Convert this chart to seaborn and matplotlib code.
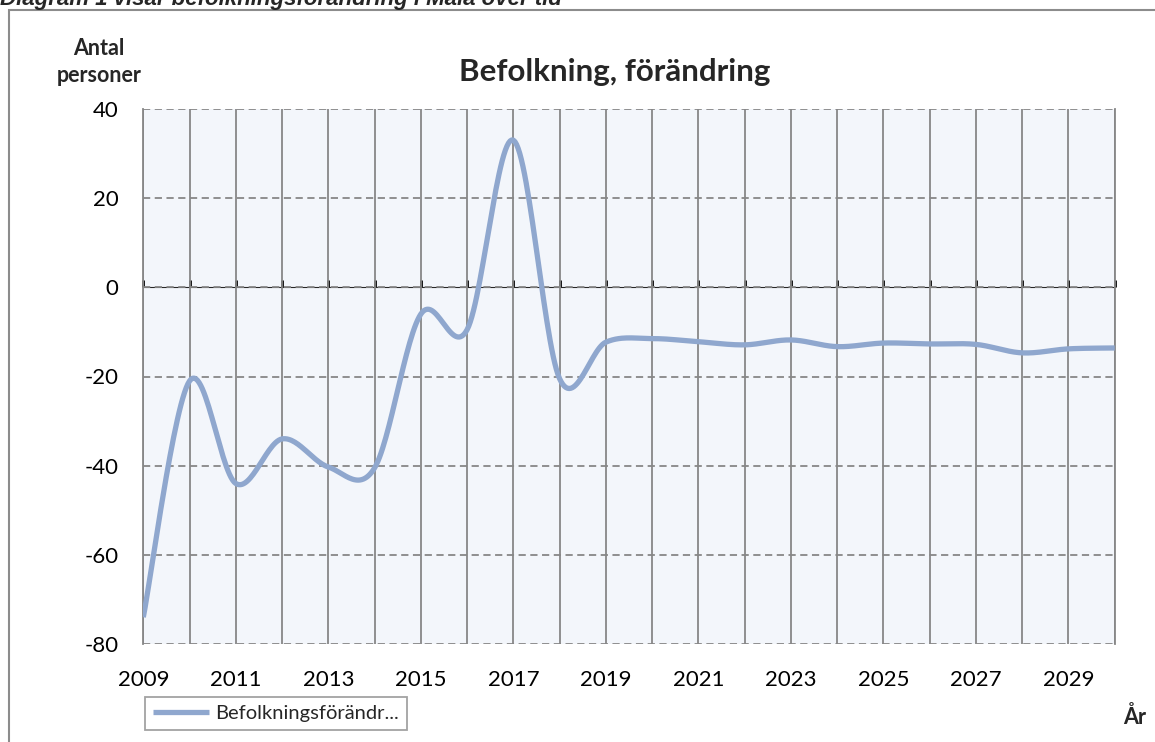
import numpy as np
import pandas as pd
import matplotlib
matplotlib.use("Agg")
import matplotlib.pyplot as plt
from matplotlib.patches import Rectangle
import seaborn as sns

# ---- data ----
years = list(range(2009, 2031))
values = [-74, -21, -44, -34, -40.3, -40.5, -6, -9.5, 33, -20.5, -12.3, -11.5,
          -12.2, -12.9, -11.8, -13.3, -12.5, -12.7, -12.8, -14.7, -13.8, -13.6]
xtick_labels = [str(y) if (y - 2009) % 2 == 0 else "" for y in years]
yticks = [-80, -60, -40, -20, 0, 20, 40]
title = "Befolkning, förändring"
series_label = "Befolkningsförändr..."
header = "Diagram 1 visar befolkningsförändring i Malå över tid"

sns.set_style("white")
plt.rcParams['font.family'] = ['Lato', 'DejaVu Sans']
plt.rcParams['axes.unicode_minus'] = False

W, H = 1155, 742
fig = plt.figure(figsize=(W / 100, H / 100), dpi=100)
ax = fig.add_axes([143.3 / W, 1 - 644 / H, (1114.7 - 143.3) / W, (644 - 109) / H])

# outer chart border
fig.patches.append(Rectangle((9 / W, -0.05), 1.2, 1 - 10 / H + 0.05,
                             transform=fig.transFigure, fill=False,
                             edgecolor="#8c8c8c", linewidth=1.5))

# Excel-style smoothed curve (Bezier through the data points)
x = np.array(years, dtype=float)
y = np.array(values, dtype=float)
n = len(x)
xs, ys = [], []
t = np.linspace(0, 1, 30)
for i in range(n - 1):
    p_prev = (x[max(i - 1, 0)], y[max(i - 1, 0)])
    p0 = (x[i], y[i])
    p1 = (x[i + 1], y[i + 1])
    p_next = (x[min(i + 2, n - 1)], y[min(i + 2, n - 1)])
    c1 = (p0[0] + (p1[0] - p_prev[0]) / 6, p0[1] + (p1[1] - p_prev[1]) / 6)
    c2 = (p1[0] - (p_next[0] - p0[0]) / 6, p1[1] - (p_next[1] - p0[1]) / 6)
    for k in range(2):
        comp = (1 - t) ** 3 * p0[k] + 3 * (1 - t) ** 2 * t * c1[k] + 3 * (1 - t) * t ** 2 * c2[k] + t ** 3 * p1[k]
        (xs if k == 0 else ys).extend(comp[:-1] if i < n - 2 else comp)
df = pd.DataFrame({"År": xs, "Värde": ys})

ax.set_facecolor("#F3F6FB")
sns.lineplot(data=df, x="År", y="Värde", ax=ax, color="#8FA7CE", linewidth=3.8,
             sort=False, label=series_label, legend=False, zorder=5,
             solid_capstyle="butt")

ax.set_xlim(2009, 2030)
ax.set_ylim(-80, 40)
ax.set_xticks(years)
ax.set_xticklabels(xtick_labels)
ax.set_yticks(yticks)
ax.set_xlabel("")
ax.set_ylabel("")

grid_c = "#878787"
ax.grid(axis="x", color=grid_c, linewidth=1.3, linestyle="-", zorder=1)
ax.grid(axis="y", color=grid_c, linewidth=1.3, linestyle=(0, (4, 2.5)), zorder=1)
ax.set_axisbelow(True)

for s in ["top", "bottom"]:
    ax.spines[s].set_visible(False)
for s in ["left", "right"]:
    ax.spines[s].set_visible(True)
    ax.spines[s].set_color(grid_c)
    ax.spines[s].set_linewidth(1.3)

ax.tick_params(axis="x", length=0, pad=19, labelsize=16, colors="black")
ax.tick_params(axis="y", length=6, width=1.3, color=grid_c, pad=12, labelsize=16, labelcolor="black")

# horizontal category axis at zero with tick marks
sec = ax.secondary_xaxis(location=(0 + 80) / 120)
sec.set_xticks(years)
sec.set_xticklabels([])
sec.tick_params(axis="x", direction="out", length=5, width=2, color="black")
sec.spines["bottom"].set_color("black")
sec.spines["bottom"].set_linewidth(1.6)

# texts
fig.text(615 / W, 1 - 72 / H, title, ha="center", va="center", fontsize=22.5, fontweight="bold")
fig.text(99 / W, 1 - 62 / H, "Antal\npersoner", ha="center", va="center", fontsize=15.5,
         fontweight="bold", linespacing=1.3)
fig.text(1135 / W, 1 - 717 / H, "År", ha="center", va="center", fontsize=15.5, fontweight="bold")
fig.text(0 / W, 1 - 5 / H, header, ha="left", va="baseline", fontsize=16,
         fontweight="bold", fontstyle="italic", family=["Liberation Sans", "DejaVu Sans"])

handles, labels = ax.get_legend_handles_labels()
leg = fig.legend(handles, labels, loc="upper left", bbox_to_anchor=(145 / W, 1 - 697 / H),
                 borderaxespad=0, frameon=True, fancybox=False, fontsize=14.5,
                 handlelength=2.8, handletextpad=0.3, borderpad=0.4)
leg.get_frame().set_edgecolor("#8c8c8c")
leg.get_frame().set_linewidth(1.3)

fig.savefig("out.png", dpi=100)
